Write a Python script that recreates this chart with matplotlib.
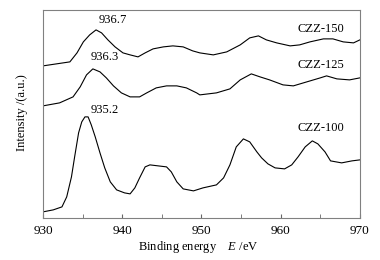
import matplotlib
matplotlib.use('Agg')
import matplotlib.pyplot as plt

plt.rcParams['font.family'] = ['Liberation Serif', 'DejaVu Serif']
plt.rcParams['mathtext.fontset'] = 'custom'
plt.rcParams['mathtext.rm'] = 'Liberation Serif'
plt.rcParams['mathtext.it'] = 'Liberation Serif:italic'

# binding energy (eV) and intensity (arb. units, offset stacked)
e_100 = [930.0, 931.3, 932.4, 933.0, 933.6, 934.0, 934.5, 934.9, 935.3, 935.7, 936.1, 936.6,
         937.2, 937.8, 938.5, 939.3, 940.3, 941.0, 941.6, 942.2, 942.9, 943.5, 945.6, 946.2,
         946.9, 947.7, 949.0, 950.2, 951.9, 952.8, 953.6, 954.4, 955.3, 956.1, 957.0, 957.6,
         958.4, 959.3, 960.5, 961.4, 962.2, 963.1, 964.0, 964.7, 965.6, 966.3, 967.7, 969.0,
         970.0]
i_100 = [6, 8, 11, 21, 41, 61, 85, 96, 101, 101, 93, 81,
         65, 50, 36, 28, 25, 24, 30, 40, 51, 53, 51, 46,
         36, 29, 27, 30, 33, 40, 53, 71, 79, 76, 66, 60,
         54, 50, 49, 53, 61, 71, 77, 74, 66, 57, 55, 57,
         58]

e_125 = [930.0, 932.1, 933.8, 934.7, 935.5, 936.3, 937.2, 938.0, 938.9, 939.9, 941.0, 942.2,
         943.1, 944.3, 945.6, 946.9, 948.1, 949.4, 949.8, 951.9, 953.6, 954.9, 956.3, 957.4,
         958.6, 960.3, 961.6, 963.3, 965.0, 965.8, 967.1, 968.7, 970.0]
i_125 = [112, 115, 121, 131, 143, 149, 146, 140, 132, 125, 121, 121,
         125, 130, 132, 132, 130, 125, 123, 125, 129, 138, 144, 141,
         138, 133, 132, 136, 140, 142, 139, 138, 140]

e_150 = [930.0, 931.7, 933.4, 934.3, 935.1, 935.9, 936.7, 937.4, 938.2, 939.1, 940.1, 941.0,
         942.0, 942.9, 943.9, 945.2, 946.4, 947.7, 948.9, 949.8, 951.5, 953.2, 954.9, 956.1,
         957.2, 958.2, 959.5, 961.2, 962.4, 963.7, 965.4, 966.6, 967.9, 969.2, 970.0]
i_150 = [152, 154, 156, 165, 176, 183, 188, 185, 178, 171, 165, 163,
         161, 165, 169, 171, 172, 171, 167, 165, 163, 166, 173, 180,
         182, 178, 175, 172, 173, 176, 179, 179, 176, 175, 178]

peak_labels = ['936.7', '936.3', '935.2']
series_names = ['CZZ-150', 'CZZ-125', 'CZZ-100']

fig = plt.figure(figsize=(3.8, 2.6), dpi=100)
ax = fig.add_axes([0.113, 0.162, 0.834, 0.8])

for e, i in [(e_100, i_100), (e_125, i_125), (e_150, i_150)]:
    ax.plot(e, i, color='black', lw=0.8)

ax.set_xlim(930, 970)
ax.set_ylim(0, 208)
ax.set_xticks([930, 940, 950, 960, 970])
ax.set_xticks([935, 945, 955, 965], minor=True)
ax.set_yticks([])
ax.tick_params(axis='x', direction='in', length=3, labelsize=9.5, pad=5, color='#666666')
ax.tick_params(axis='x', which='minor', direction='in', length=3, color='#666666')
for s in ax.spines.values():
    s.set_color('#808080')
    s.set_linewidth(0.8)

fs = 9
ax.text(938.8, 198, peak_labels[0], ha='center', va='center', fontsize=fs)
ax.text(937.8, 161, peak_labels[1], ha='center', va='center', fontsize=fs)
ax.text(937.8, 108, peak_labels[2], ha='center', va='center', fontsize=fs)
ax.text(965.1, 189, series_names[0], ha='center', va='center', fontsize=fs)
ax.text(965.1, 153, series_names[1], ha='center', va='center', fontsize=fs)
ax.text(965.1, 90, series_names[2], ha='center', va='center', fontsize=fs)

fig.text(0.522, 0.05, 'Binding energy    $\\mathit{E}$ /eV', ha='center', va='center', fontsize=fs)
fig.text(0.058, 0.565, 'Intensity /(a.u.)', ha='center', va='center', rotation=90, fontsize=fs)

fig.savefig('out.png', dpi=100)
